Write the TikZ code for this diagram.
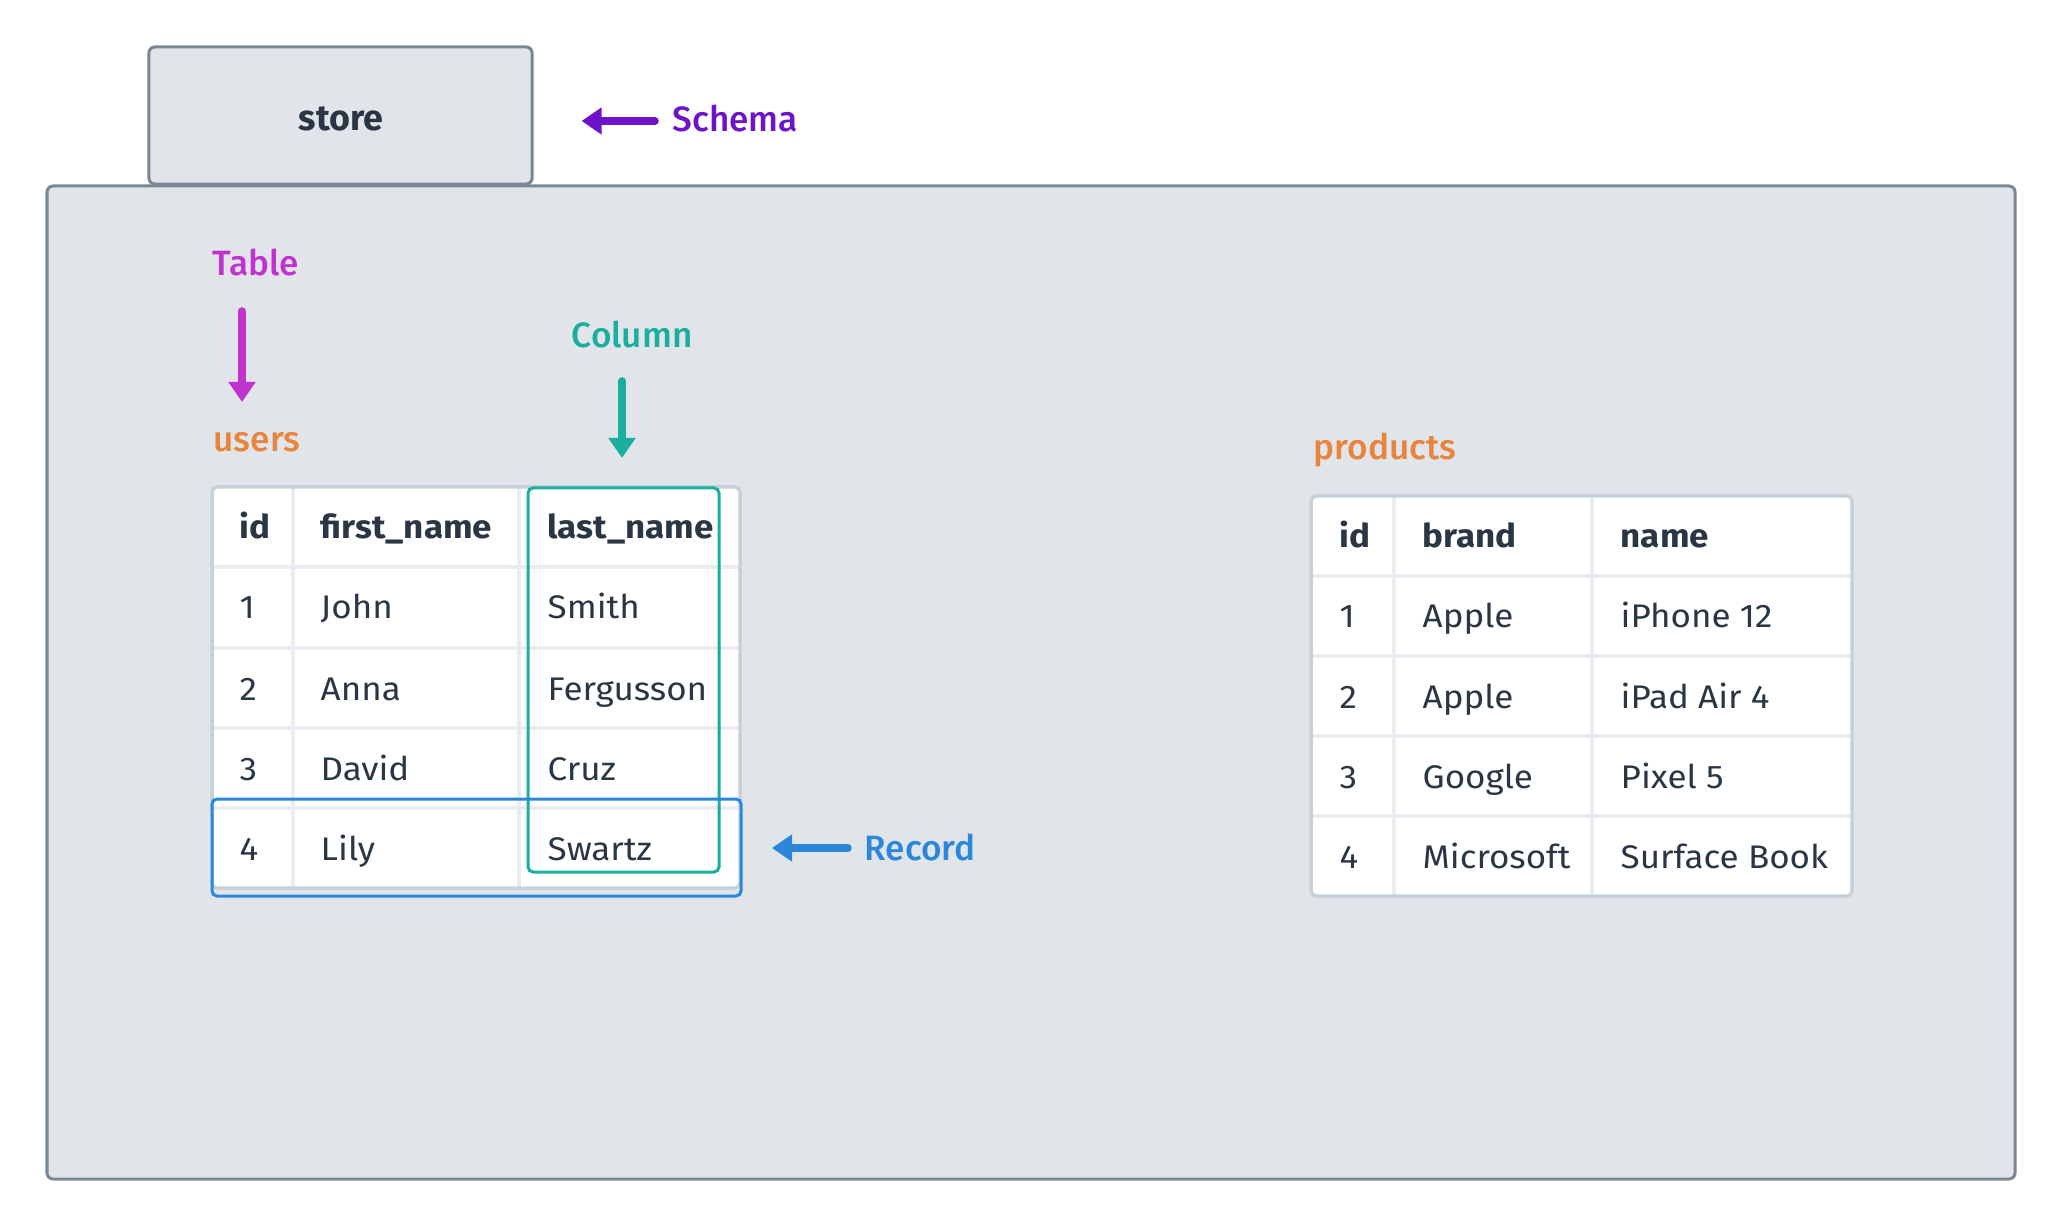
\documentclass[tikz,border=0pt]{standalone}
\usepackage{fontspec}
\setmainfont{Fira Sans}[FakeStretch=1.07]
\newfontfamily\plainfont{Fira Sans}
\newfontfamily\medfont{Fira Sans Medium}
\usetikzlibrary{arrows.meta}

\definecolor{ink}{HTML}{2B3645}
\definecolor{panel}{HTML}{E1E5E9}
\definecolor{edge}{HTML}{7B8794}
\definecolor{tableframe}{HTML}{C6D1DA}
\definecolor{gridline}{HTML}{E9EDF1}
\definecolor{schemacol}{HTML}{6E14C8}
\definecolor{tablecol}{HTML}{C133D1}
\definecolor{columncol}{HTML}{1AAE9F}
\definecolor{recordcol}{HTML}{2B87DA}
\definecolor{namecol}{HTML}{E8843C}

\tikzset{
  cell/.style={anchor=base west, inner sep=0pt, text=ink, font=\fontsize{9.3}{11}\selectfont},
  head/.style={cell, font=\fontsize{9.3}{11}\selectfont\bfseries},
  tag/.style={anchor=base west, inner sep=0pt, font=\fontsize{10}{12}\selectfont\medfont},
  pointer/.style={line width=0.075cm, line cap=round, -{Triangle[width=0.26cm,length=0.2cm]}},
  grid/.style={line width=0.035cm, draw=gridline},
  frame/.style={line width=0.035cm, draw=tableframe, rounded corners=0.05cm},
  mark box/.style={line width=0.03cm, rounded corners=0.05cm},
}

\begin{document}
\begin{tikzpicture}[x=0.01cm,y=-0.01cm]
    \useasboundingbox (0,0) rectangle (2064,1228);
    % schema
    \node[draw=edge, fill=panel, line width=0.03cm, rounded corners=0.06cm,
          minimum width=3.83cm, minimum height=1.37cm] (store) at (340.5,115.5) {};
    \node[text=ink, inner sep=0pt, anchor=base, font=\fontsize{10.2}{12}\selectfont\plainfont\bfseries] (storelbl) at (341,131) {store};
    \draw[draw=edge, fill=panel, line width=0.03cm, rounded corners=0.06cm] (47,186) rectangle (2015,1179);
    \node[tag, text=schemacol] (schema) at (672,132) {Schema};
    \coordinate (schematail) at (655,121);
    \draw[pointer, schemacol, shorten >=0.48cm] (schematail) -- (schematail -| store.east);

    % users
    \node[tag, text=tablecol] (tablelbl) at (212,276) {Table};
    \coordinate (tabletop) at (242,311);
    \coordinate (tabletip) at (242,402);
    \draw[pointer, tablecol] (tabletop) -- (tabletip);
    \node[tag, text=namecol] (users) at (213,452) {users};
    \node[tag, text=columncol] (columnlbl) at (571,348) {Column};
    \coordinate (columntop) at (622,381);
    \coordinate (columntip) at (622,458);
    \draw[pointer, columncol] (columntop) -- (columntip);

    \fill[white] (212,487) rectangle (740,888);
    \draw[grid] (293,487) -- (293,888) (519,487) -- (519,888);
    \foreach \y in {567,648,728,808}
        \draw[grid] (212,\y) -- (740,\y);
    \draw[frame] (212,487) rectangle (740,888);
    \node[head] (uid) at (239,539) {id};
    \node[head] (ufirst) at (320,539) {first\_name};
    \node[head] (ulast) at (547,539) {last\_name};
    \foreach \i/\f/\l/\y in {1/John/Smith/619, 2/Anna/Fergusson/700, 3/David/Cruz/780, 4/Lily/Swartz/860} {
        \node[cell] (uid\i) at (239,\y) {\i};
        \node[cell] (ufirst\i) at (320,\y) {\f};
        \node[cell] (ulast\i) at (547,\y) {\l};
    }
    \draw[mark box, columncol] (528,488) rectangle (719,872);
    \draw[mark box, recordcol] (212,799) rectangle (741,896);
    \node[tag, text=recordcol] (record) at (864,860) {Record};
    \coordinate (recordtail) at (848,848);
    \coordinate (recordtip) at (772,848);
    \draw[pointer, recordcol] (recordtail) -- (recordtip);

    % products
    \node[tag, text=namecol] (products) at (1313,460) {products};
    \fill[white] (1311,496) rectangle (1852,896);
    \draw[grid] (1394,496) -- (1394,896) (1592,496) -- (1592,896);
    \foreach \y in {576,656,736,816}
        \draw[grid] (1311,\y) -- (1852,\y);
    \draw[frame] (1311,496) rectangle (1852,896);
    \node[head] (pid) at (1339,548) {id};
    \node[head] (pbrand) at (1422,548) {brand};
    \node[head] (pname) at (1620,548) {name};
    \foreach \i/\b/\n/\y in {1/Apple/iPhone 12/628, 2/Apple/iPad Air 4/708, 3/Google/Pixel 5/788, 4/Microsoft/Surface Book/868} {
        \node[cell] (pid\i) at (1339,\y) {\i};
        \node[cell] (pbrand\i) at (1422,\y) {\b};
        \node[cell] (pname\i) at (1620,\y) {\n};
    }
\end{tikzpicture}
\end{document}
